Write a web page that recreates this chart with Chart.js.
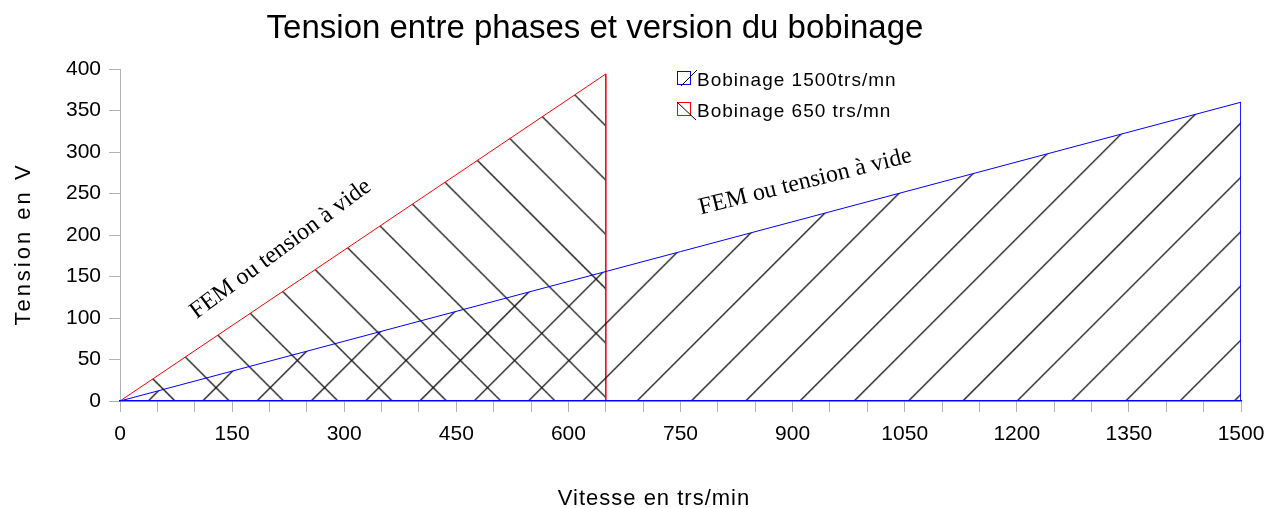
<!DOCTYPE html>
<html>
<head>
<meta charset="utf-8">
<script src="https://cdn.jsdelivr.net/npm/chart.js@4.4.0/dist/chart.umd.min.js"></script>
<style>
  body { margin: 0; background: #fff; }
  #wrap { width: 1277px; height: 508px; }
</style>
</head>
<body>
<div id="wrap"><canvas id="phaseChart"></canvas></div>
<script>
// values
const speed1500 = [0, 1500, 1500];
const volts1500 = [0, 360, 0];
const speed650 = [0, 650, 650];
const volts650 = [0, 394, 0];
const seriesNames = ['Bobinage 1500trs/mn', 'Bobinage 650 trs/mn'];
const yTicks = [0, 50, 100, 150, 200, 250, 300, 350, 400];
const xLabelStep = 150;

const chartTitle = 'Tension entre phases et version du bobinage';
const xTitle = 'Vitesse en trs/min';
const yTitle = 'Tension en V';
const noteText = 'FEM ou tension à vide';

const toPoints = (xs, ys) => xs.map((x, i) => ({ x: x, y: ys[i] }));

// hatch pattern, 45 deg lines about 54px apart
function hatch(dir, offset) {
    const step = 54.3, size = step * 10;
    const c = document.createElement('canvas');
    c.width = size; c.height = size;
    const g = c.getContext('2d');
    g.strokeStyle = '#111';
    g.lineWidth = 1.3;
    g.beginPath();
    for (let k = -10; k <= 20; k++) {
        const d = k * step;
        if (dir === '/') {
            g.moveTo(d, 0); g.lineTo(d - size, size);
        } else {
            g.moveTo(d, 0); g.lineTo(d + size, size);
        }
    }
    g.stroke();
    const p = document.getElementById('phaseChart').getContext('2d').createPattern(c, 'repeat');
    p.setTransform(new DOMMatrix([1, 0, 0, 1, offset, 0]));
    return p;
}

const textPlugin = {
    id: 'texts',
    afterDraw(chart) {
        const ctx = chart.ctx;
        const xs = chart.scales.x, ys = chart.scales.y;
        ctx.save();
        ctx.fillStyle = '#000';

        ctx.font = '33px "Liberation Sans", Arial, sans-serif';
        ctx.textAlign = 'center';
        ctx.textBaseline = 'alphabetic';
        ctx.fillText(chartTitle, 595, 38);

        ctx.letterSpacing = '1px';
        ctx.font = '22px "Liberation Sans", Arial, sans-serif';
        ctx.fillText(xTitle, 654, 505);

        ctx.save();
        ctx.letterSpacing = '3px';
        ctx.translate(30, 244);
        ctx.rotate(-Math.PI / 2);
        ctx.fillText(yTitle, 0, 0);
        ctx.restore();

        // legend
        ctx.letterSpacing = '1px';
        ctx.font = '19px "Liberation Sans", Arial, sans-serif';
        ctx.textAlign = 'left';
        const rows = [
            { y: 71, color: '#0000ff', line: [681, 86, 697, 70] },
            { y: 102, color: '#ff0000', line: [677, 102, 696, 120] }
        ];
        rows.forEach((r, i) => {
            ctx.fillStyle = '#fff';
            ctx.fillRect(677, r.y, 13, 13);
            ctx.strokeStyle = r.color;
            ctx.lineWidth = 1;
            ctx.strokeRect(677.5, r.y + 0.5, 13, 13);
            ctx.strokeStyle = '#000';
            ctx.beginPath();
            ctx.moveTo(r.line[0], r.line[1]);
            ctx.lineTo(r.line[2], r.line[3]);
            ctx.stroke();
            ctx.fillStyle = '#000';
            ctx.fillText(seriesNames[i], 697, r.y + 15);
        });

        // notes along the two lines
        ctx.letterSpacing = '0px';
        ctx.font = '24px "Liberation Serif", "Times New Roman", serif';
        ctx.textAlign = 'center';
        ctx.textBaseline = 'middle';
        const notes = [
            { x: 215, y: 183, angle: -36.5 },
            { x: 917, y: 264, angle: -14 }
        ];
        notes.forEach(n => {
            ctx.save();
            ctx.translate(xs.getPixelForValue(n.x), ys.getPixelForValue(n.y));
            ctx.rotate(n.angle * Math.PI / 180);
            ctx.fillText(noteText, 0, 0);
            ctx.restore();
        });
        ctx.restore();
    }
};

const ctx = document.getElementById('phaseChart').getContext('2d');
const phaseChart = new Chart(ctx, {
    type: 'line',
    data: {
        datasets: [
            {
                label: seriesNames[0],
                data: toPoints(speed1500, volts1500),
                borderColor: '#0000ff',
                borderWidth: 1,
                backgroundColor: hatch('/', 6.3),
                fill: 'origin',
                pointRadius: 0,
                tension: 0
            },
            {
                label: seriesNames[1],
                data: toPoints(speed650, volts650),
                borderColor: '#ff0000',
                borderWidth: 1,
                backgroundColor: hatch('\\', 45.5),
                fill: 'origin',
                pointRadius: 0,
                tension: 0
            }
        ]
    },
    options: {
        responsive: true,
        maintainAspectRatio: false,
        animation: false,
        layout: { padding: { top: 69, right: 36, left: 0, bottom: 0 } },
        plugins: {
            legend: { display: false },
            title: { display: false },
            tooltip: { enabled: false }
        },
        scales: {
            x: {
                type: 'linear',
                min: 0,
                max: 1500,
                afterFit: s => { s.height = 107; },
                grid: { drawOnChartArea: false, tickLength: 11, color: '#b3b3b3' },
                border: { color: '#0000ff', width: 1.5, z: 1 },
                ticks: {
                    stepSize: 50,
                    autoSkip: false,
                    maxRotation: 0,
                    padding: 10,
                    color: '#000',
                    font: { family: '"Liberation Sans", Arial, sans-serif', size: 21 },
                    callback: v => (v % xLabelStep === 0 ? String(v) : '')
                }
            },
            y: {
                min: yTicks[0],
                max: yTicks[yTicks.length - 1],
                afterFit: s => { s.width = 120; },
                grid: { drawOnChartArea: false, tickLength: 11, color: '#b3b3b3' },
                border: { color: '#b3b3b3' },
                ticks: {
                    stepSize: 50,
                    padding: 8,
                    color: '#000',
                    font: { family: '"Liberation Sans", Arial, sans-serif', size: 21 }
                }
            }
        }
    },
    plugins: [textPlugin]
});
</script>
</body>
</html>
